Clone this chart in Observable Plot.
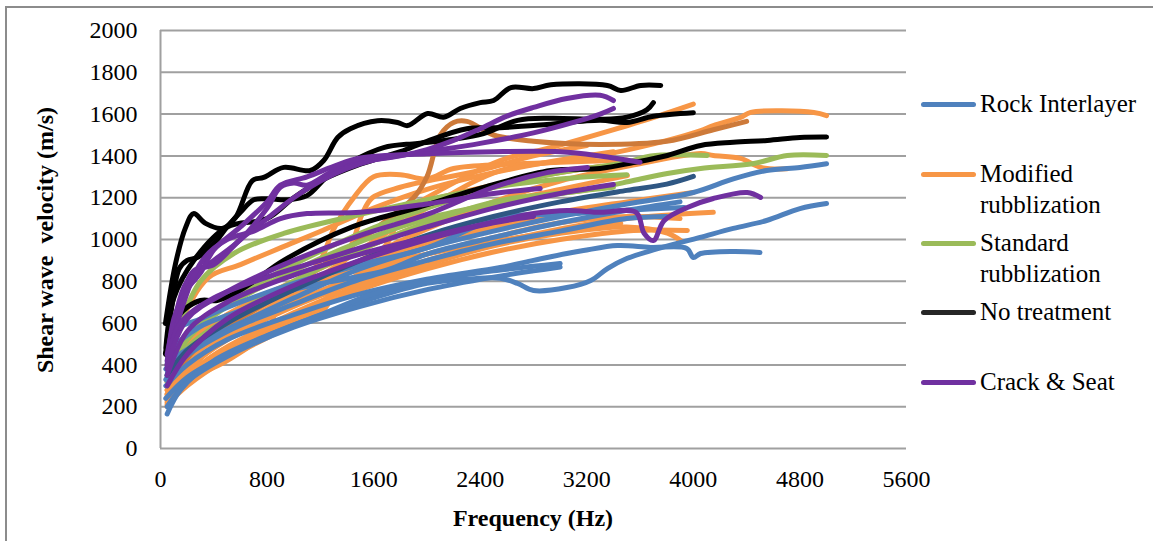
<!DOCTYPE html>
<html>
<head>
<meta charset="utf-8">
<script src="https://cdn.jsdelivr.net/npm/d3@7"></script>
<script src="https://cdn.jsdelivr.net/npm/@observablehq/plot@0.6"></script>
<style>
  html, body { margin: 0; padding: 0; background: #fff; overflow: hidden; }
  #wrap { position: relative; width: 1153px; height: 541px; }
  #frame { position: absolute; left: 5px; top: 6px; width: 1170px; height: 600px; border: 2px solid #8c8c8c; box-sizing: border-box; }
  .lab { position: absolute; font-size: 25px; color: #000; white-space: pre; line-height: 31px; }
  .sw { position: absolute; height: 5px; border-radius: 3px; width: 55px; }
  .ttl { position: absolute; font-weight: bold; font-size: 24px; color: #000; white-space: pre; }
</style>
</head>
<body>
<div id="wrap"><div id="frame"></div></div>
<script>
// ---- Data (frequency Hz, shear wave velocity m/s) ----
const xTicks = [0, 800, 1600, 2400, 3200, 4000, 4800, 5600];
const yTicks = [0, 200, 400, 600, 800, 1000, 1200, 1400, 1600, 1800, 2000];

const seriesNames = ["Rock Interlayer", "Modified rubblization", "Standard rubblization", "No treatment", "Crack & Seat"];
const seriesColors = ["#4F81BD", "#F79646", "#9BBB59", "#262626", "#7030A0"];

const rockInterlayer = [
  [[40,380],[100,430],[300,510],[600,600],[1000,720],[1500,860],[2000,960],[2500,1040],[3000,1110],[3500,1170],[4000,1225],[4300,1290],[4550,1330],[4800,1345],[5000,1362]],
  [[40,240],[200,340],[500,450],[1000,590],[1500,700],[2000,790],[2300,810],[2550,815],[2680,790],[2800,756],[3050,770],[3230,804],[3355,861],[3500,909],[3700,950],[4050,1010],[4300,1053],[4550,1091],[4800,1148],[5000,1172]],
  [[40,300],[200,400],[500,520],[1000,640],[1500,740],[2000,810],[2550,866],[2800,900],[3050,933],[3175,947],[3430,971],[3680,962],[3950,957],[4000,914],[4055,933],[4300,943],[4500,938]],
  [[50,200],[200,320],[500,440],[1000,580],[1500,680],[2000,760],[2500,820],[2800,850],[3000,868]],
  [[50,165],[150,280],[400,420],[800,540],[1200,640],[1600,740],[2000,800],[2500,850],[3000,885]],
  [[50,350],[100,480],[285,579],[600,660],[1000,760],[1690,852],[2000,930],[2500,1010],[3000,1080],[3500,1140],[3900,1180]],
  [[50,400],[100,560],[300,620],[600,700],[1000,790],[1500,880],[2000,960],[2550,1105],[3000,1120],[3500,1140],[3930,1153]],
  [[40,330],[150,420],[500,560],[1000,690],[1500,810],[2000,900],[2500,980],[3000,1040],[3500,1100],[3800,1110]]
];
const rockDark = [
  [[50,350],[200,470],[500,600],[1000,760],[1500,900],[2000,1020],[2500,1110],[3000,1180],[3500,1235],[3800,1265],[4000,1302]]
];

const modifiedRubblization = [
  [[50,300],[200,450],[500,600],[1000,780],[1500,1000],[2000,1200],[2550,1378],[2930,1440],[3300,1507],[3680,1580],[4000,1648]],
  [[50,280],[200,420],[500,560],[1000,740],[1500,950],[2000,1150],[2550,1330],[3055,1378],[3300,1402],[3550,1435],[3805,1474],[4055,1521],[4150,1545],[4355,1584],[4430,1608],[4905,1608],[5000,1593]],
  [[50,260],[200,380],[500,540],[1000,720],[1500,900],[2000,1050],[2500,1180],[3000,1280],[3500,1350],[4055,1411],[4150,1402],[4355,1388],[4505,1345],[4705,1338]],
  [[50,250],[300,430],[600,580],[1000,760],[1200,900],[1300,1050],[1450,1200],[1600,1300],[1800,1310],[2000,1290],[2200,1340],[2600,1360],[3000,1370],[3500,1380]],
  [[50,220],[200,330],[500,460],[1000,620],[1500,760],[2000,860],[2500,940],[3000,1000],[3550,1043],[3955,1043]],
  [[50,260],[200,380],[500,520],[1000,680],[1500,800],[2000,900],[2500,980],[3000,1050],[3500,1100],[4150,1130]],
  [[50,300],[300,480],[600,620],[1000,760],[1500,880],[2000,980],[2500,1060],[3000,1130],[3500,1180],[4000,1225]],
  [[50,320],[200,500],[500,640],[1000,800],[1500,950],[2000,1080],[2500,1170],[3000,1240],[3505,1306]],
  [[50,230],[300,400],[600,520],[1000,650],[1500,780],[2000,880],[2500,970],[3000,1030],[3500,1060],[3805,1030],[3905,995]],
  [[50,200],[200,320],[500,420],[800,560],[900,700],[1125,804],[1300,830],[1500,860],[1700,980],[1800,1100],[2000,1180],[2500,1260],[3000,1320],[3300,1350]],
  [[50,400],[150,600],[360,818],[600,880],[900,960],[1216,1043],[1600,1150],[2000,1240],[2500,1320],[3000,1380],[3400,1420]],
  [[50,240],[300,400],[600,520],[1000,620],[1240,675],[1315,804],[1450,1000],[1515,1124],[1590,1200],[1800,1250],[2000,1280],[2400,1330],[2800,1400],[3200,1450]],
  [[50,210],[200,300],[500,430],[1000,600],[1576,866],[2000,930],[2500,990],[3000,1040],[3455,1077]],
  [[50,280],[200,420],[500,560],[1000,700],[1500,830],[2000,930],[2500,1010],[3000,1080],[3500,1110],[3900,1100]]
];
const modifiedDark = [
  [[50,300],[300,500],[800,700],[1500,1000],[1900,1200],[2000,1300],[2100,1500],[2200,1560],[2300,1565],[2500,1500],[2800,1470],[3300,1455],[3800,1470],[4150,1525],[4400,1565]]
];

const standardRubblization = [
  [[50,300],[200,480],[500,620],[1000,800],[1500,950],[2000,1080],[2550,1187],[3055,1225],[3300,1249],[3550,1282],[3805,1316],[4055,1340],[4455,1364],[4705,1402],[5000,1402]],
  [[50,350],[200,550],[500,700],[1000,880],[1500,1030],[2000,1150],[2500,1250],[3000,1320],[3500,1370],[3680,1400],[4105,1402]],
  [[50,320],[200,520],[500,680],[1000,850],[1500,990],[2000,1100],[2500,1170],[3000,1220],[3400,1250]],
  [[50,380],[150,600],[300,800],[550,933],[925,1029],[1500,1120],[2000,1190],[2500,1250],[3000,1290],[3500,1310]]
];

const noTreatment = [
  [[37,598],[113,885],[188,1057],[248,1124],[338,1077],[465,1053],[563,1105],[690,1282],[775,1297],[925,1345],[1125,1330],[1225,1378],[1330,1488],[1425,1530],[1630,1568],[1780,1560],[1855,1545],[2005,1603],[2125,1585],[2250,1627],[2400,1655],[2500,1665],[2630,1727],[2800,1722],[2930,1740],[3355,1737],[3455,1713],[3605,1737],[3755,1737]],
  [[40,450],[90,700],[140,860],[200,900],[280,915],[400,980],[500,1060],[600,1130],[700,1190],[800,1195],[950,1190],[1100,1210],[1250,1300],[1425,1370],[1675,1440],[1930,1460],[2200,1480],[2425,1507],[2680,1570],[2930,1580],[3300,1575],[3500,1585],[3650,1620],[3700,1655]],
  [[40,480],[100,720],[250,900],[500,1060],[800,1100],[1000,1200],[1200,1280],[1500,1360],[1800,1420],[2000,1470],[2300,1530],[2550,1535],[2900,1550],[3300,1570],[3500,1560],[3700,1590],[4000,1607]],
  [[37,455],[100,600],[170,660],[300,708],[425,708],[550,740],[700,800],[925,900],[1425,1057],[1930,1153],[2425,1249],[2930,1330],[3300,1340],[3550,1368],[3805,1402],[4055,1450],[4300,1465],[4555,1474],[4800,1488],[5000,1490]]
];

const crackAndSeat = [
  [[50,450],[100,600],[200,800],[400,900],[600,1000],[800,1150],[900,1250],[1000,1270],[1100,1260],[1300,1330],[1500,1370],[1800,1400],[2000,1430],[2200,1474],[2400,1530],[2600,1590],[2800,1632],[3050,1675],[3300,1690],[3400,1665]],
  [[50,400],[150,700],[250,850],[400,880],[600,1000],[800,1100],[1000,1200],[1200,1280],[1400,1340],[1600,1380],[2000,1420],[2400,1460],[2800,1510],[3100,1560],[3300,1600],[3400,1627]],
  [[50,380],[100,620],[200,760],[300,840],[400,950],[600,1060],[800,1180],[900,1260],[1100,1300],[1300,1350],[1500,1390],[2000,1410],[2500,1420],[3000,1420],[3300,1400],[3600,1370]],
  [[50,380],[150,650],[315,900],[500,1000],[700,1040],[900,1100],[1100,1124],[1500,1130],[2000,1170],[2500,1220],[2850,1244]],
  [[50,350],[200,560],[500,700],[1000,830],[1500,930],[2000,1010],[2550,1091],[2800,1124],[3055,1139],[3300,1130],[3570,1130],[3630,1030],[3700,995],[3780,1090],[3955,1153],[4150,1196],[4405,1225],[4505,1201]],
  [[50,420],[150,600],[400,720],[800,820],[1200,900],[1600,980],[2000,1060],[2500,1150],[3000,1220],[3400,1263]],
  [[50,400],[200,620],[500,750],[1000,900],[1500,1020],[2000,1120],[2500,1250],[2900,1320],[3205,1345]],
  [[50,300],[200,450],[500,620],[1000,780],[1500,900],[2000,1000],[2500,1080],[2800,1110]]
];

// ---- Pick an installed serif font (Times-like) ----
function pickFont() {
  const cands = ["Liberation Serif", "Times New Roman", "Tinos", "DejaVu Serif", "Noto Serif", "FreeSerif", "Nimbus Roman", "Nimbus Roman No9 L", "Times", "Georgia"];
  const c = document.createElement("canvas").getContext("2d");
  const s = "Rock Interlayer 0123456789 mmmWWWiii";
  const w = f => { c.font = "40px " + f; return c.measureText(s).width; };
  const wm = w("monospace"), ws = w("sans-serif");
  for (const f of cands) {
    const a = w("'" + f + "', monospace"), b = w("'" + f + "', sans-serif");
    if (a !== wm || b !== ws) return "'" + f + "'";
  }
  return "serif";
}
const FONT = pickFont() + ", serif";
document.getElementById("wrap").style.fontFamily = FONT;

// ---- Build tidy table ----
function toRows(lines, group) {
  const rows = [];
  lines.forEach((ln, i) => ln.forEach(([f, v]) => rows.push({group, id: group + "-" + i, f, v})));
  return rows;
}

const layers = [
  {rows: toRows(modifiedRubblization, "mod"), color: seriesColors[1]},
  {rows: toRows(modifiedDark, "modd"), color: "#CD7A3A"},
  {rows: toRows(standardRubblization, "std"), color: seriesColors[2]},
  {rows: toRows(rockInterlayer, "rock"), color: seriesColors[0]},
  {rows: toRows(rockDark, "rockd"), color: "#2F5783"},
  {rows: toRows(noTreatment, "none"), color: "#000000"},
  {rows: toRows(crackAndSeat, "cs"), color: seriesColors[4]}
];

const chart = Plot.plot({
  width: 1153,
  height: 541,
  marginLeft: 160,
  marginRight: 247,
  marginTop: 30,
  marginBottom: 93,
  style: {fontFamily: FONT, fontSize: "24px", color: "#000", background: "transparent", overflow: "visible"},
  x: {domain: [0, 5600], ticks: xTicks, tickFormat: d => String(d), tickSize: 0, tickPadding: 21, label: null},
  y: {domain: [0, 2000], ticks: yTicks, tickFormat: d => String(d), tickSize: 0, tickPadding: 23, label: null},
  marks: [
    Plot.ruleY(yTicks, {stroke: "#a0a0a0", strokeWidth: 2}),
    Plot.ruleX([0], {stroke: "#a0a0a0", strokeWidth: 2}),
    ...layers.map(L => Plot.line(L.rows, {x: "f", y: "v", z: "id", stroke: L.color, strokeWidth: 5, curve: "catmull-rom", strokeLinecap: "round", strokeLinejoin: "round"}))
  ]
});
chart.style.position = "absolute";
chart.style.left = "0px";
chart.style.top = "0px";
const wrap = document.getElementById("wrap");
wrap.appendChild(chart);

// ---- Axis titles ----
const xt = document.createElement("div");
xt.className = "ttl";
xt.textContent = "Frequency (Hz)";
xt.style.left = "533px"; xt.style.top = "505px"; xt.style.transform = "translateX(-50%)";
wrap.appendChild(xt);

const yt = document.createElement("div");
yt.className = "ttl";
yt.textContent = "Shear wave  velocity (m/s)";
yt.style.left = "45px"; yt.style.top = "240px";
yt.style.transform = "translate(-50%,-50%) rotate(-90deg)";
wrap.appendChild(yt);

// ---- Legend ----
const legendY = [104, 174, 243, 312, 382];
const legendText = ["Rock Interlayer", "Modified\nrubblization", "Standard\nrubblization", "No treatment", "Crack & Seat"];
seriesNames.forEach((name, i) => {
  const sw = document.createElement("div");
  sw.className = "sw";
  sw.style.background = seriesColors[i];
  sw.style.left = "921px";
  sw.style.top = (legendY[i] - 2.5) + "px";
  wrap.appendChild(sw);
  const t = document.createElement("div");
  t.className = "lab";
  t.textContent = legendText[i];
  t.style.left = "980px";
  t.style.top = (legendY[i] - 16) + "px";
  wrap.appendChild(t);
});
</script>
</body>
</html>
